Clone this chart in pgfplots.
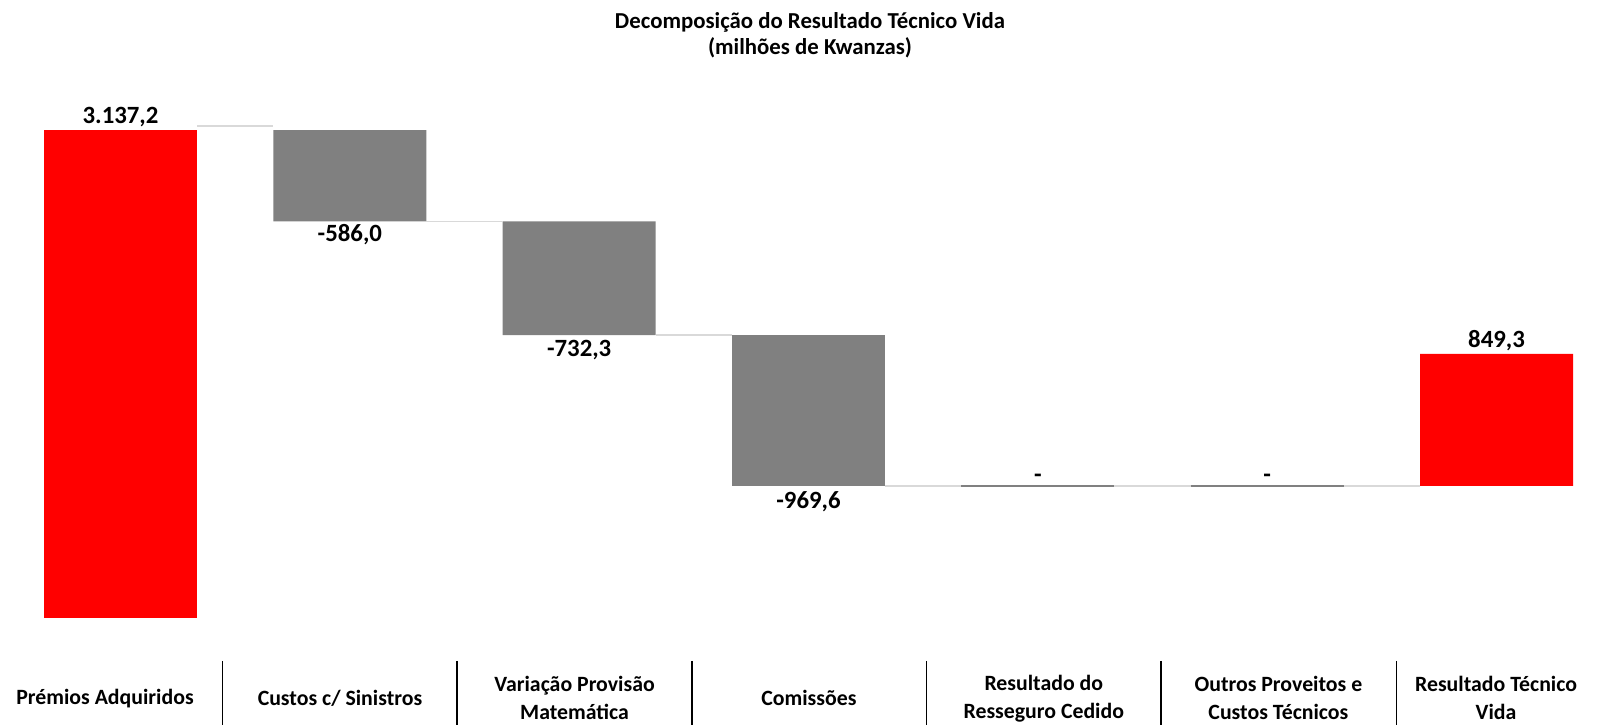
\documentclass[border=0pt]{standalone}
\usepackage{fontspec}
\setmainfont{Carlito}
\usepackage{pgfplots}
\pgfplotsset{compat=1.18}
\definecolor{barred}{RGB}{255,0,0}
\definecolor{bargray}{RGB}{128,128,128}
\definecolor{conn}{RGB}{217,217,217}
\definecolor{zeroline}{RGB}{128,128,128}
\pgfplotsset{
  common/.style={
    scale only axis, width=800pt, height=362.5pt,
    xmin=-0.5254, xmax=6.4513, ymin=-688.1, ymax=3974.3,
    at={(0,0)}, anchor=south west, clip=false,
  }
}
\begin{document}
\begin{tikzpicture}
\begin{axis}[common, hide axis, ybar stacked, bar width=0.667]
\addplot[fill=none, draw=none] coordinates {(0,0) (1,2551.2) (2,1818.9) (3,849.3) (4,849.3) (5,849.3) (6,849.3)};
\addplot[fill=bargray, draw=none] coordinates {(0,0) (1,586.0) (2,732.3) (3,969.6) (4,0) (5,0) (6,0)};
\addplot[fill=barred, draw=none] coordinates {(0,3137.2) (1,0) (2,0) (3,0) (4,0) (5,0) (6,849.3)};
\end{axis}
\begin{axis}[common, no markers,
  axis line style={draw=none}, tick style={draw=none}, ytick=\empty,
  xtick={-0.0676,0.957,1.980,3.002,4.026,5.049,5.998},
  xticklabels={Prémios Adquiridos, Custos c/ Sinistros, {Variação Provisão\\Matemática}, Comissões, {Resultado do\\Resseguro Cedido}, {Outros Proveitos e\\Custos Técnicos}, {Resultado Técnico\\Vida}},
  xticklabel style={anchor=center, inner sep=0pt, yshift=13.3pt, align=center, font=\fontsize{10.9}{14}\selectfont\bfseries},
  title={Decomposição do Resultado Técnico Vida\\(milhões de Kwanzas)},
  title style={at={(0.50625,1)}, anchor=center, inner sep=0pt, yshift=-23.6pt, align=center, font=\fontsize{11.4}{12.75}\selectfont\bfseries},
]
% connectors
\addplot[conn, line width=0.75pt] coordinates {(0.3336,3164) (0.6664,3164)};
\addplot[conn, line width=0.75pt] coordinates {(1.3336,2551.2) (1.6664,2551.2)};
\addplot[conn, line width=0.75pt] coordinates {(2.3336,1818.9) (2.6664,1818.9)};
\addplot[conn, line width=0.75pt] coordinates {(3.3336,849.3) (3.6664,849.3)};
\addplot[conn, line width=0.75pt] coordinates {(4.3336,849.3) (4.6664,849.3)};
\addplot[conn, line width=0.75pt] coordinates {(5.3336,849.3) (5.6664,849.3)};
% zero-value bars
\addplot[zeroline, line width=0.7pt] coordinates {(3.6664,849.3) (4.3336,849.3)};
\addplot[zeroline, line width=0.7pt] coordinates {(4.6664,849.3) (5.3336,849.3)};
% separators of the category row
\addplot[black, line width=0.6pt] coordinates {(0.4448,-276.5) (0.4448,-688.1)};
\addplot[black, line width=0.6pt] coordinates {(1.4673,-276.5) (1.4673,-688.1)};
\addplot[black, line width=0.6pt] coordinates {(2.4920,-276.5) (2.4920,-688.1)};
\addplot[black, line width=0.6pt] coordinates {(3.5146,-276.5) (3.5146,-688.1)};
\addplot[black, line width=0.6pt] coordinates {(4.5372,-276.5) (4.5372,-688.1)};
\addplot[black, line width=0.6pt] coordinates {(5.5625,-276.5) (5.5625,-688.1)};
% data labels
\tikzset{dl/.style={font=\fontsize{12.4}{14}\selectfont\bfseries, anchor=center, inner sep=0pt}}
\node[dl, yshift=6.4pt] at (axis cs:0,3137.2) {3.137,2};
\node[dl, yshift=-6.8pt] at (axis cs:1,2551.2) {-586,0};
\node[dl, yshift=-7.4pt] at (axis cs:2,1818.9) {-732,3};
\node[dl, yshift=-8pt] at (axis cs:3,849.3) {-969,6};
\node[dl, yshift=3.7pt] at (axis cs:4,849.3) {-};
\node[dl, yshift=3.7pt] at (axis cs:5,849.3) {-};
\node[dl, yshift=6.4pt] at (axis cs:6,1698.6) {849,3};
\end{axis}
\end{tikzpicture}
\end{document}
